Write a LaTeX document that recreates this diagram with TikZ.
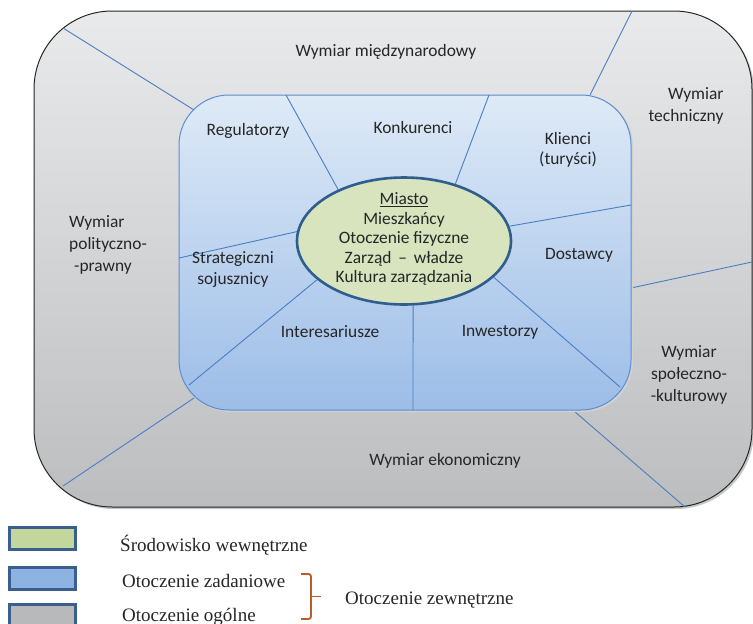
\documentclass[tikz,border=0pt]{standalone}
\usepackage{fontspec}
\setmainfont{Carlito}
\newfontfamily\legendfont{Liberation Serif}
\usetikzlibrary{shapes.geometric}
\definecolor{outertop}{HTML}{E9EAEB}
\definecolor{outerbot}{HTML}{BCBDBF}
\definecolor{innertop}{HTML}{DEEAF7}
\definecolor{innerbot}{HTML}{9CBDE7}
\definecolor{innerborder}{HTML}{5B8DD0}
\definecolor{sepline}{HTML}{4A7EC4}
\definecolor{citygreen}{HTML}{D7E4BD}
\definecolor{cityborder}{HTML}{2F5D8E}
\definecolor{txtcol}{HTML}{262626}
\definecolor{legGreen}{HTML}{C3D69B}
\definecolor{legBlue}{HTML}{8DB3E2}
\definecolor{legGray}{HTML}{B8B9BB}
\definecolor{legBorder}{HTML}{3A5F8F}
\definecolor{bracecol}{HTML}{B85C2A}
\tikzset{
  sep/.style={draw=sepline, line width=0.9pt},
  lbl/.style={text=txtcol, font=\fontsize{17.4}{22}\selectfont, align=center, inner sep=0pt},
  legbox/.style={draw=legBorder, line width=3pt, minimum width=66pt, minimum height=22pt, inner sep=0pt},
  legtext/.style={text=txtcol, font=\legendfont\fontsize{19}{22}\selectfont, anchor=west, inner sep=0pt},
}
\begin{document}
\begin{tikzpicture}[x=1pt,y=-1pt]
\useasboundingbox (0,0) rectangle (753,624);
% outer (general environment)
\fill[black!22, rounded corners=78pt] (36,13) rectangle (754,509);
\shadedraw[top color=outertop, bottom color=outerbot, draw=black!85, line width=1pt, rounded corners=78pt] (34,11) rectangle (752,507);
% coordinates on outer border
\coordinate (o1) at (63,28);
\coordinate (o2) at (632,11);
\coordinate (o3) at (752,262);
\coordinate (o4) at (685,507);
\coordinate (o5) at (63,486);
% coordinates on inner border
\coordinate (i1) at (194,110);
\coordinate (i2) at (590,95);
\coordinate (i3) at (631,288);
\coordinate (i4) at (574,411);
\coordinate (i5) at (194,398);
\draw[sep] (o1) -- (i1);
\draw[sep] (o2) -- (i2);
\draw[sep] (o3) -- (i3);
\draw[sep] (o4) -- (i4);
\draw[sep] (o5) -- (i5);
% inner (task environment)
\fill[black!18, rounded corners=50pt] (181,96) rectangle (633,412);
\shadedraw[top color=innertop, bottom color=innerbot, draw=innerborder, line width=1pt, rounded corners=50pt] (179,95) rectangle (631,410);
% city
\node[ellipse, draw=cityborder, line width=2.6pt, fill=citygreen, minimum width=214pt, minimum height=127pt, inner sep=0pt] (city) at (404,241) {};
\coordinate (t1) at (286,95);
\coordinate (t2) at (489,95);
\coordinate (t3) at (631,205);
\coordinate (t4) at (620,387);
\coordinate (t5) at (413,410);
\coordinate (t6) at (189,385);
\coordinate (t7) at (179,258);
\draw[sep] (t1) -- (city.142);
\draw[sep] (t2) -- (city.48);
\draw[sep] (t3) -- (city.8);
\draw[sep] (t4) -- (city.-22);
\draw[sep] (t5) -- (city.-82);
\draw[sep] (t6) -- (city.-156);
\draw[sep] (t7) -- (city.175);
\node[lbl, font=\fontsize{17.4}{19.5}\selectfont] (citytxt) at (404,239) {\underline{Miasto}\\Mieszkańcy\\Otoczenie fizyczne\\Zarząd \,–\, władze\\Kultura zarządzania};
% outer labels
\node[lbl] (intl) at (386,52) {Wymiar międzynarodowy};
\node[lbl, align=right] (tech) at (686,106) {Wymiar\\techniczny};
\node[lbl, align=left, anchor=west] (pol) at (69,245) {Wymiar\\polityczno-\\\hspace*{5pt}-prawny};
\node[lbl] (soc) at (689,375) {Wymiar\\społeczno-\\-kulturowy};
\node[lbl] (eco) at (445,461) {Wymiar ekonomiczny};
% inner labels
\node[lbl] (reg) at (248,131) {Regulatorzy};
\node[lbl] (kon) at (413,128) {Konkurenci};
\node[lbl, font=\fontsize{17.4}{20}\selectfont] (kli) at (568,150) {Klienci\\(turyści)};
\node[lbl] (dos) at (579,255) {Dostawcy};
\node[lbl, font=\fontsize{17.4}{21}\selectfont] (str) at (233,270) {Strategiczni\\sojusznicy};
\node[lbl] (int) at (330,332) {Interesariusze};
\node[lbl] (inw) at (500,332) {Inwestorzy};
% legend
\node[legbox, fill=legGreen] (lg1) at (42,538) {};
\node[legbox, fill=legBlue] (lg2) at (42,578) {};
\node[legbox, fill=legGray] (lg3) at (42,615) {};
\node[legtext] (lt1) at (120,545) {Środowisko wewnętrzne};
\node[legtext] (lt2) at (122,581) {Otoczenie zadaniowe};
\node[legtext] (lt3) at (122,617) {Otoczenie ogólne};
\coordinate (br1) at (301,574);
\coordinate (br2) at (301,619);
\coordinate (brm) at (311,596.5);
\coordinate (brt) at (321,596.5);
\draw[bracecol, line width=1.8pt, rounded corners=2.5pt] (br1) -| (brm) |- (br2);
\draw[bracecol, line width=1.8pt] (brm) -- (brt);
\node[legtext] (lt4) at (345,600) {Otoczenie zewnętrzne};
\end{tikzpicture}
\end{document}
